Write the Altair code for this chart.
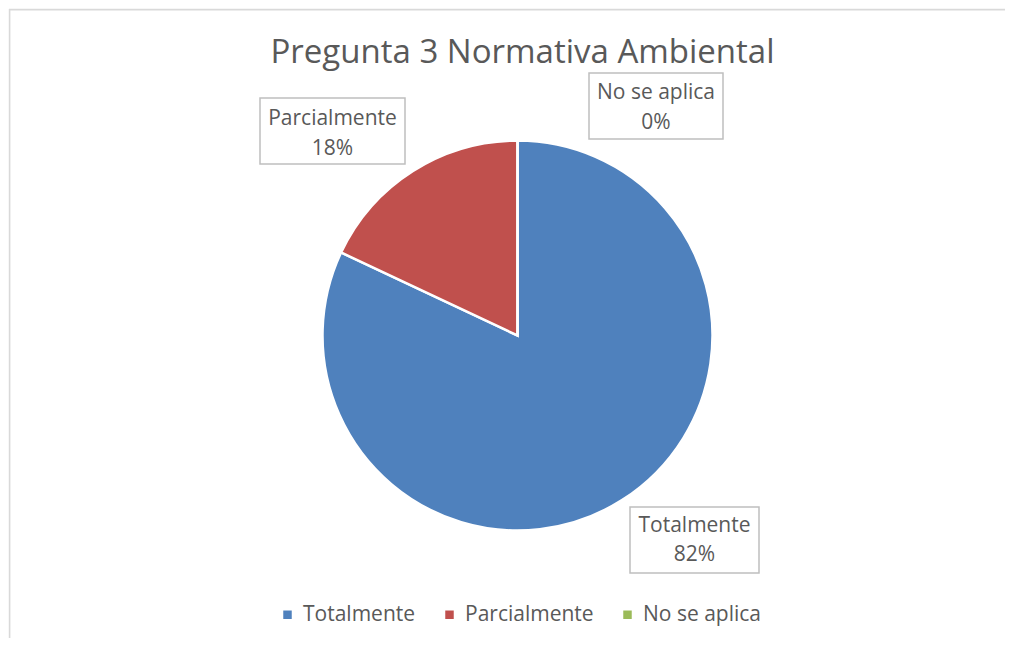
import altair as alt
import pandas as pd

# ---- data ----
categories = ["Totalmente", "Parcialmente", "No se aplica"]
values = [82, 18, 0]
pct_labels = ["82%", "18%", "0%"]
colors = ["#4F81BD", "#C0504D", "#9BBB59"]
title_text = "Pregunta 3 Normativa Ambiental"

# ---- layout (pixel positions of annotation boxes, chart coords) ----
W, H = 997, 630
CX, CY, R = 508.5, 326.5, 195
box_x = [621, 251, 580]
box_x2 = [750, 396, 714]
box_y = [498, 89, 64]
box_y2 = [564, 155, 130]
line1_y = [517, 110, 84]
line2_y = [546, 140, 114]

FONT = "Open Sans"
TXT = "#595959"

pie_df = pd.DataFrame({"cat": categories, "val": values, "idx": list(range(len(categories)))})
lab_df = pd.DataFrame({
    "cat": categories, "pct": pct_labels,
    "bx": box_x, "bx2": box_x2, "by": box_y, "by2": box_y2,
    "tx": [(a + b) / 2 for a, b in zip(box_x, box_x2)],
    "l1": line1_y, "l2": line2_y,
})
one = pd.DataFrame({"a": [0]})

border = alt.layer(
    alt.Chart(one).mark_rule(color="#d9d9d9", strokeWidth=1.6).encode(
        x=alt.value(0.6), y=alt.value(0), y2=alt.value(H)),
    alt.Chart(one).mark_rule(color="#d9d9d9", strokeWidth=1.6).encode(
        y=alt.value(0.6), x=alt.value(0), x2=alt.value(W)),
)

pie = alt.Chart(pie_df).mark_arc(radius=R, stroke="white", strokeWidth=2.5).encode(
    theta=alt.Theta("val:Q", stack=True),
    order=alt.Order("idx:Q"),
    color=alt.Color(
        "cat:N",
        scale=alt.Scale(domain=categories, range=colors),
        sort=categories,
        legend=alt.Legend(
            orient="none", legendX=268, legendY=595, direction="horizontal",
            columns=3, title=None, symbolType="square", symbolSize=72,
            symbolStrokeWidth=0, labelFontSize=21, labelFont=FONT,
            labelColor=TXT, columnPadding=23, labelOffset=5, padding=0,
        ),
    ),
    x=alt.value(CX),
    y=alt.value(CY),
)

boxes = alt.Chart(lab_df).mark_rect(fill="white", stroke="#bfbfbf", strokeWidth=1.5).encode(
    x=alt.X("bx:Q", scale=None, axis=None),
    x2="bx2:Q",
    y=alt.Y("by:Q", scale=None, axis=None),
    y2="by2:Q",
)

t1 = alt.Chart(lab_df).mark_text(font=FONT, fontSize=21, color=TXT, baseline="middle", align="center").encode(
    x=alt.X("tx:Q", scale=None, axis=None),
    y=alt.Y("l1:Q", scale=None, axis=None),
    text="cat:N",
)
t2 = alt.Chart(lab_df).mark_text(font=FONT, fontSize=21, color=TXT, baseline="middle", align="center").encode(
    x=alt.X("tx:Q", scale=None, axis=None),
    y=alt.Y("l2:Q", scale=None, axis=None),
    text="pct:N",
)

title = alt.Chart(pd.DataFrame({"t": [title_text]})).mark_text(
    font=FONT, fontSize=33, color=TXT, baseline="alphabetic", align="center"
).encode(x=alt.value(513.5), y=alt.value(54), text="t:N")

chart = alt.layer(border, pie, boxes, t1, t2, title).properties(
    width=W, height=H,
    autosize=alt.AutoSizeParams(type="fit", contains="padding"),
    padding=0,
    background="white",
).configure_view(stroke=None)

chart.save("out.html", embed_options={"renderer": "svg", "actions": False})
